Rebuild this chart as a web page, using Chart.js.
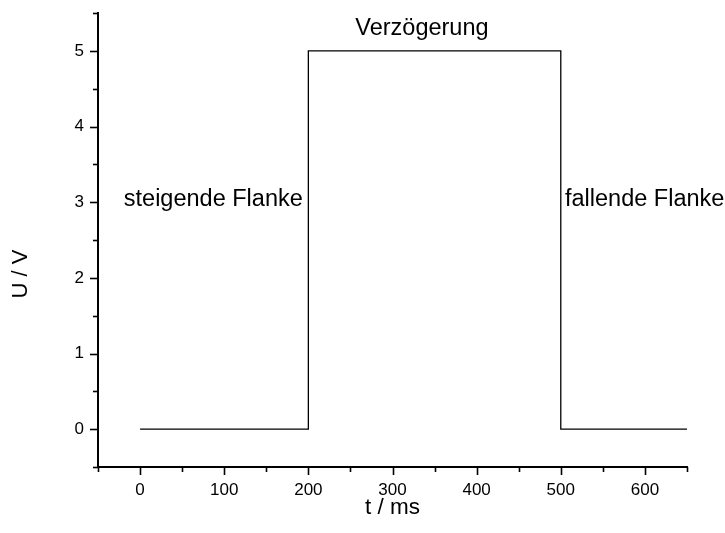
<!DOCTYPE html>
<html>
<head>
<meta charset="utf-8">
<script src="https://cdn.jsdelivr.net/npm/chart.js@4/dist/chart.umd.min.js"></script>
<style>
  html, body { margin: 0; padding: 0; background: #fff; }
  #wrap { width: 725px; height: 533px; position: relative; }
</style>
</head>
<body>
<div id="wrap"><canvas id="c"></canvas></div>
<script>
// ---- data ----
const timeMs = [0, 200, 200, 500, 500, 650];
const voltage = [0, 0, 5, 5, 0, 0];
const xTitle = 't / ms';
const yTitle = 'U / V';
const noteTexts = ['Verzögerung', 'steigende Flanke', 'fallende Flanke'];
const noteX = [335, 87, 505];
const noteY = [5.29, 3.03, 3.03];
const noteAlign = ['center', 'center', 'left'];

const FONT = '"Liberation Sans", Arial, sans-serif';

const tickPlugin = {
  id: 'originTicks',
  afterDraw(chart) {
    const ctx = chart.ctx;
    ctx.save();
    ctx.strokeStyle = '#000';
    ctx.lineWidth = 1.6;
    const xs = chart.scales.x, ys = chart.scales.y;
    xs.ticks.forEach(t => {
      const px = Math.round(xs.getPixelForValue(t.value)) + 0.5;
      const major = Math.abs(t.value % 100) < 1e-6;
      const len = major ? 8 : 5;
      ctx.beginPath();
      ctx.moveTo(px, xs.top);
      ctx.lineTo(px, xs.top + len);
      ctx.stroke();
    });
    ys.ticks.forEach(t => {
      const py = Math.round(ys.getPixelForValue(t.value)) + 0.5;
      const major = Math.abs(t.value - Math.round(t.value)) < 1e-6;
      const len = major ? 8 : 5;
      ctx.beginPath();
      ctx.moveTo(ys.right, py);
      ctx.lineTo(ys.right - len, py);
      ctx.stroke();
    });
    // annotations
    ctx.fillStyle = '#000';
    ctx.font = '23.5px ' + FONT;
    ctx.textBaseline = 'middle';
    noteTexts.forEach((txt, i) => {
      ctx.textAlign = noteAlign[i];
      ctx.fillText(txt, xs.getPixelForValue(noteX[i]), ys.getPixelForValue(noteY[i]));
    });
    // y axis title (offset below centre, as in the original)
    ctx.save();
    ctx.font = '22px ' + FONT;
    ctx.textAlign = 'center';
    ctx.textBaseline = 'middle';
    ctx.translate(21, 274);
    ctx.rotate(-Math.PI / 2);
    ctx.fillText(yTitle, 0, 0);
    ctx.restore();
    ctx.restore();
  }
};

new Chart(document.getElementById('c'), {
  type: 'scatter',
  data: {
    datasets: [{
      data: timeMs.map((t, i) => ({ x: t, y: voltage[i] })),
      showLine: true,
      borderColor: '#000',
      borderWidth: 1.3,
      pointRadius: 0,
      fill: false
    }]
  },
  options: {
    responsive: true,
    maintainAspectRatio: false,
    animation: false,
    layout: { padding: { top: 13, right: 38, left: 0, bottom: 0 } },
    plugins: { legend: { display: false }, tooltip: { enabled: false } },
    scales: {
      x: {
        type: 'linear',
        min: -50, max: 650,
        afterFit: s => { s.height = 66; s.paddingLeft = 0; s.paddingRight = 0; },
        ticks: {
          stepSize: 50,
          autoSkip: false,
          maxRotation: 0,
          padding: 13,
          color: '#000',
          font: { family: FONT, size: 17 },
          callback: v => (Math.abs(v % 100) < 1e-6 ? String(v) : '')
        },
        grid: { drawOnChartArea: false, drawTicks: false },
        border: { display: true, color: '#000', width: 2 },
        title: {
          display: true, text: xTitle, color: '#000',
          font: { family: FONT, size: 22.5 },
          padding: { top: 0, bottom: 12 }
        }
      },
      y: {
        type: 'linear',
        min: -0.5, max: 5.5,
        afterFit: s => { s.width = 98; s.paddingTop = 0; s.paddingBottom = 0; },
        ticks: {
          stepSize: 0.5,
          autoSkip: false,
          padding: 14,
          color: '#000',
          font: { family: FONT, size: 17 },
          callback: v => (Math.abs(v - Math.round(v)) < 1e-6 ? String(v) : '')
        },
        grid: { drawOnChartArea: false, drawTicks: false },
        border: { display: true, color: '#000', width: 2 },
        title: { display: false }
      }
    }
  },
  plugins: [tickPlugin]
});
</script>
</body>
</html>
